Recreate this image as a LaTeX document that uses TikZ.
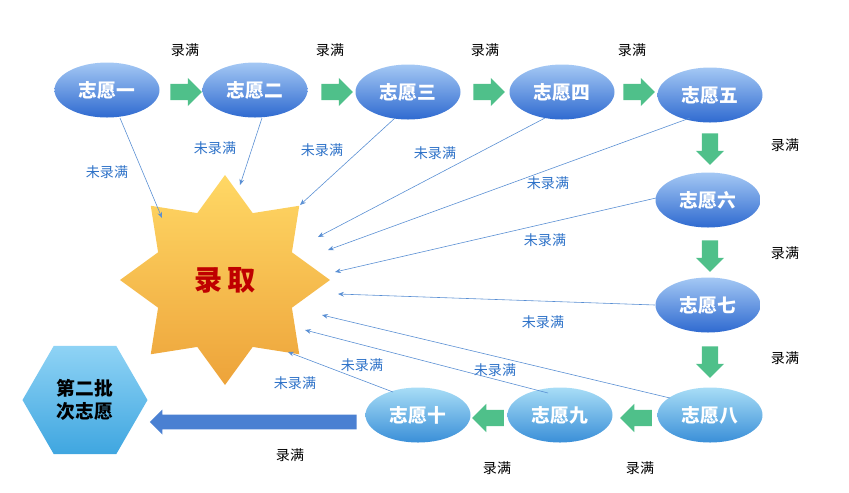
\documentclass[tikz,border=0pt]{standalone}
\usepackage{fontspec}
\setmainfont{Noto Sans CJK SC}
\usetikzlibrary{shapes.geometric,shapes.arrows,arrows.meta}
\definecolor{vt}{HTML}{A4C8F4}
\definecolor{vb}{HTML}{2F6AD0}
\definecolor{vbt}{HTML}{A8DDF6}
\definecolor{vbb}{HTML}{3A8FD8}
\definecolor{gg}{HTML}{4FC08A}
\definecolor{stt}{HTML}{FFD865}
\definecolor{stb}{HTML}{EDA33A}
\definecolor{hxt}{HTML}{8FD3F5}
\definecolor{hxb}{HTML}{3FA6E0}
\definecolor{lb}{HTML}{2E72C8}
\definecolor{bigc}{HTML}{4A80D2}
\begin{document}
\begin{tikzpicture}[x=0.03cm,y=-0.03cm,
 vol/.style={ellipse,minimum width=3.15cm,minimum height=1.65cm,top color=vt,bottom color=vb,draw=none,text=white,font=\bfseries\fontsize{16}{16}\selectfont,inner sep=0pt},
 volb/.style={vol,top color=vbt,bottom color=vbb},
 garr/.style={single arrow,fill=gg,draw=none,minimum height=0.95cm,minimum width=0.85cm,single arrow head extend=0.13cm,inner sep=0.17cm,text width=0pt},
 lbl/.style={font=\fontsize{12}{12}\selectfont},
 nl/.style={lbl,text=lb},
 th/.style={draw=lb!80,-{Stealth[length=5pt,width=4pt]},line width=0.5pt}]
\useasboundingbox (0,0) rectangle (849,492);
\node[vol] (n1) at (107,90) {志愿一};
\node[vol] (n2) at (255,90) {志愿二};
\node[vol] (n3) at (408,92) {志愿三};
\node[vol] (n4) at (562,92) {志愿四};
\node[vol] (n5) at (710,95) {志愿五};
\node[vol] (n6) at (708,200) {志愿六};
\node[vol] (n7) at (708,305) {志愿七};
\node[volb] (n8) at (710,415) {志愿八};
\node[volb] (n9) at (560,415) {志愿九};
\node[volb] (n10) at (418,415) {志愿十};
\node[star,star points=8,star point ratio=1.45,minimum size=6.3cm,top color=stt,bottom color=stb,draw=none,font=\bfseries\fontsize{24}{24}\selectfont,text=red!75!black] (st) at (225,280) {录\,取};
\node[regular polygon,regular polygon sides=6,minimum size=3.75cm,top color=hxt,bottom color=hxb,draw=none,font=\bfseries\fontsize{16}{19}\selectfont,align=center] (hx) at (85,400) {第二批\\次志愿};
% green arrows
\foreach \x in {182,333,485,635}{\node[garr] (ga\x) at (\x,92) {};}
\foreach \y in {145,252,358}{\node[garr,rotate=-90] (gd\y) at (710,\y) {};}
\foreach \x in {640,492}{\node[garr,rotate=180] (gl\x) at (\x,418) {};}
\node[single arrow,rotate=180,minimum height=6.2cm,minimum width=0.75cm,single arrow head extend=0.1cm,inner sep=0.14cm,text width=0pt,fill=bigc,draw=none] (big) at (257,422) {};
% labels
\foreach \p in {(185,50),(330,50),(485,50),(632,50),(785,145),(785,253),(785,358),(640,468),(497,468),(290,455)}{\node[lbl] at \p {录满};}
\foreach \p in {(107,172),(215,148),(322,150),(435,153),(548,183),(545,240),(543,322),(362,365),(495,370),(295,383)}{\node[nl] at \p {未录满};}
% thin arrows
\coordinate (e1) at (162,218);
\coordinate (e2) at (240,185);
\coordinate (e3) at (300,205);
\coordinate (e4) at (318,237);
\coordinate (e5) at (328,250);
\coordinate (e6) at (335,272);
\coordinate (e7) at (338,294);
\coordinate (e8) at (322,315);
\coordinate (e9) at (305,330);
\coordinate (e10) at (288,352);
\coordinate (s1) at (120,118);
\coordinate (s2) at (262,118);
\coordinate (s3) at (395,118);
\coordinate (s4) at (545,118);
\coordinate (s5) at (690,118);
\coordinate (s6) at (656,198);
\coordinate (s7) at (655,305);
\coordinate (s8) at (670,398);
\coordinate (s9) at (548,393);
\coordinate (s10) at (393,392);
\foreach \i in {1,...,10}{\draw[th] (s\i) -- (e\i);}
\end{tikzpicture}
\end{document}
